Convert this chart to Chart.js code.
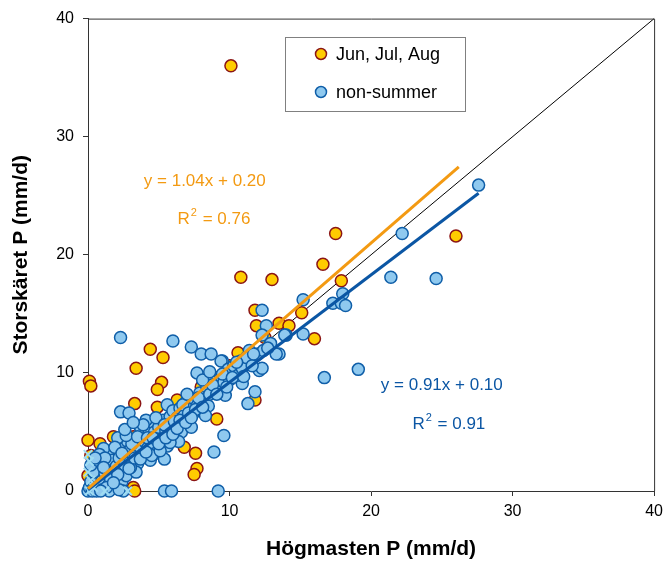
<!DOCTYPE html>
<html>
<head>
<meta charset="utf-8">
<script src="https://cdn.jsdelivr.net/npm/chart.js@4"></script>
<style>
  body { margin: 0; background: #fff; }
</style>
</head>
<body>
<canvas id="myChart" width="669" height="568"></canvas>
<script>
// daily precipitation, Högmasten (x) vs Storskäret (y), mm/d
const summer_points = [
  [10.1, 36.0], [17.5, 21.8], [26.0, 21.6], [16.6, 19.2], [10.8, 18.1], [13.0, 17.9],
  [17.9, 17.8], [15.1, 15.1], [11.8, 15.3], [16.0, 12.9], [13.5, 14.2], [11.9, 14.0],
  [10.6, 11.7], [11.8, 7.7], [4.4, 12.0], [5.3, 11.3], [3.4, 10.4], [0.1, 9.3],
  [0.2, 8.9], [5.2, 9.2], [4.9, 8.6], [3.3, 7.4], [4.9, 7.1], [8.4, 9.4], [6.3, 7.7],
  [9.1, 6.1], [6.8, 3.7], [7.6, 3.2], [7.7, 1.9], [7.5, 1.4], [6.4, 4.9], [0.0, 4.3],
  [0.85, 4.0], [1.8, 4.6], [3.2, 4.6], [2.4, 4.0], [0.2, 3.0], [3.2, 0.3], [3.3, 0.0],
  [0.0, 1.3], [1.0, 1.2], [2.0, 2.6], [3.0, 3.3], [4.0, 4.8], [5.0, 5.8], [6.0, 6.2],
  [7.0, 7.5], [8.0, 8.8], [9.0, 9.6], [10.0, 10.6], [0.5, 0.3], [1.5, 0.4], [2.6, 1.5],
  [0.4, 2.0], [12.5, 13.0], [14.2, 14.0]
];

const other_points = [
  [27.6, 25.9], [22.2, 21.8], [21.4, 18.1], [24.6, 18.0], [18.0, 16.7], [17.3, 15.9],
  [17.9, 15.9], [18.2, 15.7], [15.2, 16.2], [15.2, 13.3], [14.0, 13.2], [13.5, 11.6],
  [16.7, 9.6], [19.1, 10.3], [12.3, 15.3], [12.6, 14.0], [12.3, 13.2], [13.9, 13.2],
  [12.9, 12.5], [13.3, 11.6], [9.5, 11.0], [10.8, 11.0], [11.4, 11.9], [11.2, 10.8],
  [12.1, 10.2], [9.8, 10.0], [10.4, 10.0], [11.8, 8.4], [11.3, 7.4], [9.5, 8.3],
  [9.6, 4.7], [8.9, 3.3], [5.6, 7.3], [2.3, 13.0], [6.0, 12.7], [7.3, 12.2], [8.0, 11.6],
  [8.7, 11.6], [9.4, 11.0], [7.7, 10.0], [9.3, 9.6], [12.3, 10.4], [10.9, 9.1],
  [2.3, 6.7], [2.9, 6.6], [5.4, 0.0], [5.9, 0.0], [9.2, 0.0],
  [0.0, 0.0], [0.1, 0.3], [0.2, 0.8], [0.3, 0.2], [0.5, 0.5], [0.6, 1.2], [0.8, 0.4],
  [0.9, 1.8], [1.0, 0.9], [0.4, 1.6], [0.2, 2.2], [0.7, 2.6], [1.0, 0.1], [0.3, 0.0],
  [0.6, 0.0], [1.2, 1.5], [1.3, 2.4], [1.5, 0.6], [1.6, 1.8], [1.8, 3.0], [1.9, 1.2],
  [1.4, 3.3], [1.7, 2.6], [1.1, 3.6], [2.0, 0.3], [1.5, 0.0], [2.0, 2.1], [2.2, 2.8],
  [2.3, 1.6], [2.5, 3.6], [2.6, 2.2], [2.8, 4.2], [2.9, 2.9], [2.4, 0.8], [2.7, 1.3],
  [2.1, 4.5], [2.5, 0.0], [3.0, 3.5], [3.2, 3.0], [3.3, 4.4], [3.5, 2.3], [3.6, 3.8],
  [3.8, 4.9], [3.9, 3.1], [3.4, 1.6], [3.7, 5.4], [3.1, 4.0], [4.0, 4.2], [4.2, 3.6],
  [4.3, 5.2], [4.5, 4.1], [4.6, 5.8], [4.8, 3.2], [4.9, 4.7], [4.4, 2.6], [4.7, 5.0],
  [4.1, 6.0], [5.0, 5.4], [5.2, 4.4], [5.3, 6.0], [5.5, 5.1], [5.6, 3.8], [5.8, 6.3],
  [5.9, 5.2], [5.4, 2.7], [5.7, 4.6], [6.0, 6.8], [6.2, 5.5], [6.3, 6.2], [6.5, 7.0],
  [6.6, 5.0], [6.8, 6.4], [6.9, 7.5], [6.4, 4.2], [7.0, 6.0], [7.2, 7.0], [7.4, 6.5],
  [7.5, 7.8], [7.7, 7.2], [7.9, 8.3], [7.3, 5.4], [8.0, 7.6], [8.2, 8.0], [8.4, 8.8],
  [8.5, 7.2], [8.7, 9.3], [8.9, 8.4], [8.3, 6.4], [9.0, 9.0], [9.2, 8.8], [9.4, 9.7],
  [9.6, 9.2], [9.9, 10.3], [9.7, 8.1], [10.0, 9.4], [10.3, 10.6], [10.6, 9.8],
  [10.9, 10.4], [11.2, 11.3], [11.6, 10.6], [12.0, 11.6], [12.4, 11.9],
  [0.8, 3.1], [1.2, 2.8], [1.9, 3.7], [2.4, 3.2], [2.7, 4.7], [3.0, 2.0], [3.5, 4.6],
  [3.9, 5.6], [4.2, 4.5], [4.5, 3.0], [4.8, 6.2], [5.1, 3.4], [5.4, 5.6], [5.8, 4.1],
  [6.1, 5.9], [6.5, 6.0], [6.7, 7.3], [7.1, 6.6], [7.6, 6.9], [7.8, 7.9], [8.1, 7.1],
  [8.6, 8.2], [8.8, 9.0], [9.1, 8.2], [9.5, 9.9], [9.8, 8.8], [10.2, 9.6], [10.5, 10.9],
  [1.1, 2.0], [1.6, 1.0], [2.1, 1.4], [2.9, 1.9], [3.3, 2.8], [3.7, 2.7], [4.1, 3.3],
  [4.6, 4.5], [5.0, 4.0], [5.5, 4.5], [6.0, 4.8], [6.3, 5.3], [6.9, 5.8], [7.3, 6.2],
  [1.3, 0.3], [0.9, 0.0], [2.2, 0.1], [1.8, 0.7], [0.5, 2.8], [2.6, 5.2], [3.2, 5.8],
  [7.0, 8.2], [8.1, 9.4], [8.6, 10.1], [11.0, 9.7], [11.7, 11.6], [12.7, 12.1]
];

// days with no reading at one of the stations
const gap_points = [
  [0.0, 3.1], [0.1, 2.5], [0.0, 1.6], [0.2, 0.9], [0.4, 0.3], [1.2, 0.0], [2.8, 0.0], [0.1, 0.0]
];

const summer_fit = [1.04, 0.20];   // slope, intercept
const summer_r2 = 0.76;
const summer_range = [0, 26.2];
const other_fit = [0.91, 0.10];
const other_r2 = 0.91;
const other_range = [0, 27.6];

const axis_ticks = [0, 10, 20, 30, 40];
const series_names = ["Jun, Jul, Aug", "non-summer"];

const FONT = "'Liberation Sans', Arial, sans-serif";
Chart.defaults.font.family = FONT;
Chart.defaults.color = "#000";

const SUMMER_FILL = "#ffcc00", SUMMER_EDGE = "#8b1515";
const OTHER_FILL = "#8fc9ef", OTHER_EDGE = "#0f5ea8";
const ORANGE = "#f39a12", BLUE = "#0b56a4";

const toXY = (pts) => pts.map(([x, y]) => ({ x, y }));
const fitLine = (fit, range) => range.map((x) => ({ x, y: fit[0] * x + fit[1] }));

const fmt = (v) => v.toFixed(2);

const data = {
  datasets: [
    {
      label: "1:1",
      data: [{ x: axis_ticks[0], y: axis_ticks[0] }, { x: axis_ticks[4], y: axis_ticks[4] }],
      showLine: true,
      borderColor: "#000",
      borderWidth: 1,
      pointRadius: 0,
      order: 6,
    },
    {
      label: series_names[0],
      data: toXY(summer_points),
      backgroundColor: SUMMER_FILL,
      borderColor: SUMMER_EDGE,
      borderWidth: 1.5,
      pointRadius: 6,
      order: 5,
    },
    {
      label: series_names[1],
      data: toXY(other_points),
      backgroundColor: OTHER_FILL,
      borderColor: OTHER_EDGE,
      borderWidth: 1.5,
      pointRadius: 6,
      order: 4,
    },
    {
      label: "gaps",
      data: toXY(gap_points),
      pointStyle: "crossRot",
      borderColor: "#9fdcf2",
      borderWidth: 2,
      pointRadius: 6,
      order: 3,
    },
    {
      label: "fit non-summer",
      data: fitLine(other_fit, other_range),
      showLine: true,
      borderColor: BLUE,
      borderWidth: 3,
      pointRadius: 0,
      order: 2,
    },
    {
      label: "fit summer",
      data: fitLine(summer_fit, summer_range),
      showLine: true,
      borderColor: ORANGE,
      borderWidth: 3,
      pointRadius: 0,
      order: 1,
    },
  ],
};

// frame, legend box and the fit equations
const decorations = {
  id: "decorations",
  afterDraw(chart) {
    const { ctx, chartArea: a, scales } = chart;
    ctx.save();
    ctx.strokeStyle = "#333";
    ctx.lineWidth = 1;
    ctx.beginPath();
    ctx.moveTo(a.left, a.top + 0.5);
    ctx.lineTo(a.right + 0.5, a.top + 0.5);
    ctx.lineTo(a.right + 0.5, a.bottom);
    ctx.stroke();

    // legend
    ctx.fillStyle = "#fff";
    ctx.fillRect(285.5, 37.5, 180, 74);
    ctx.strokeStyle = "#808080";
    ctx.strokeRect(285.5, 37.5, 180, 74);
    const items = [
      [series_names[0], SUMMER_FILL, SUMMER_EDGE, 54],
      [series_names[1], OTHER_FILL, OTHER_EDGE, 92],
    ];
    ctx.font = "18px " + FONT;
    ctx.textBaseline = "middle";
    ctx.textAlign = "left";
    for (const [name, fill, edge, y] of items) {
      ctx.beginPath();
      ctx.arc(321, y, 5.5, 0, Math.PI * 2);
      ctx.fillStyle = fill;
      ctx.fill();
      ctx.lineWidth = 1.5;
      ctx.strokeStyle = edge;
      ctx.stroke();
      ctx.fillStyle = "#000";
      ctx.fillText(name, 336, y + 1);
    }

    const px = (x) => scales.x.getPixelForValue(x);
    const py = (y) => scales.y.getPixelForValue(y);
    drawFit(ctx, px(8.25), py(26.2), py(23.0), ORANGE, summer_fit, summer_r2, 8.9);
    drawFit(ctx, px(25.0), py(8.95), py(5.65), BLUE, other_fit, other_r2, 25.5);
    ctx.restore();

    function drawFit(ctx, cx, yEq, yR, color, fit, r2, rx) {
      ctx.fillStyle = color;
      ctx.textBaseline = "middle";
      ctx.textAlign = "center";
      ctx.font = "17px " + FONT;
      ctx.fillText(`y = ${fmt(fit[0])}x + ${fmt(fit[1])}`, cx, yEq);
      const big = "17px " + FONT, small = "11px " + FONT;
      const tail = ` = ${fmt(r2)}`;
      ctx.font = big;
      const wR = ctx.measureText("R").width, wT = ctx.measureText(tail).width;
      ctx.font = small;
      const w2 = ctx.measureText("2").width;
      let x = px(rx) - (wR + w2 + 2 + wT) / 2;
      ctx.textAlign = "left";
      ctx.font = big;
      ctx.fillText("R", x, yR);
      ctx.font = small;
      ctx.fillText("2", x + wR + 1, yR - 6);
      ctx.font = big;
      ctx.fillText(tail, x + wR + w2 + 2, yR);
    }
  },
};

const axis = (title, extra) => ({
  type: "linear",
  min: axis_ticks[0],
  max: axis_ticks[axis_ticks.length - 1],
  afterBuildTicks: (s) => { s.ticks = axis_ticks.map((v) => ({ value: v })); },
  ticks: { font: { size: 16 }, color: "#000" },
  grid: { drawOnChartArea: false, tickLength: 5, color: "#333" },
  border: { color: "#333" },
  title: { display: true, text: title, color: "#000", font: { size: 21, weight: "bold" } },
  ...extra,
});

const config = {
  type: "scatter",
  data,
  options: {
    responsive: false,
    animation: false,
    layout: { padding: { top: 17, right: 14, left: 0, bottom: 0 } },
    plugins: { legend: { display: false }, tooltip: { enabled: false } },
    datasets: { scatter: { clip: false } },
    scales: {
      x: axis("Högmasten P (mm/d)", {
        afterFit: (s) => { s.height = 77; },
      }),
      y: axis("Storskäret P (mm/d)", {
        afterFit: (s) => { s.width = 88; },
      }),
    },
  },
  plugins: [decorations],
};
config.options.scales.x.ticks.padding = 6;
config.options.scales.x.title.padding = { bottom: 6 };
config.options.scales.y.ticks = { font: { size: 16 }, color: "#000", padding: 9 };
config.options.scales.y.title.padding = { top: 9 };

const myChart = new Chart(document.getElementById("myChart"), config);
</script>
</body>
</html>
